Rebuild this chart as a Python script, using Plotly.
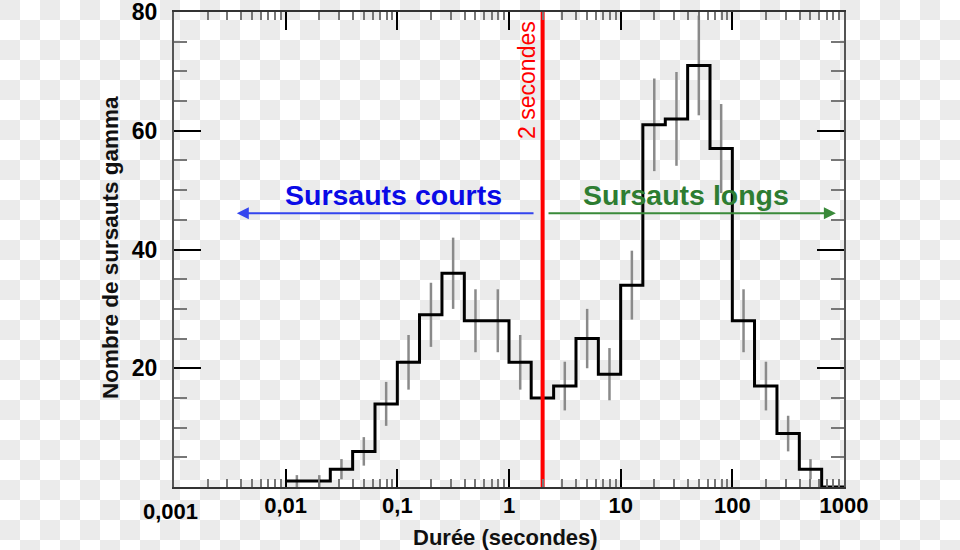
import math
import zlib
import struct
import base64
import plotly.graph_objects as go

# ---------------- data ----------------
bin_left = [0.01, 0.0158, 0.0251, 0.0398, 0.0631, 0.1, 0.158, 0.251, 0.398, 0.631,
            1, 1.58, 2.51, 3.98, 6.31, 10, 15.8, 25.1, 39.8, 63.1,
            100, 158, 251, 398, 631]
bin_right_end = 1000
counts = [1, 1, 3, 6, 14, 21, 29, 36, 28, 28,
          21, 15, 17, 25, 19, 34, 61, 62, 71, 57,
          28, 17, 9, 3, 0]
bin_center = [0.0126, 0.02, 0.0316, 0.0501, 0.0794, 0.126, 0.2, 0.316, 0.501, 0.794,
              1.26, 2, 3.16, 5.01, 7.94, 12.6, 20, 31.6, 50.1, 79.4,
              126, 200, 316, 501, 794]
errors = [1.0, 1.0, 1.7, 2.4, 3.7, 4.6, 5.4, 6.0, 5.3, 5.3,
          4.6, 3.9, 4.1, 5.0, 4.4, 5.8, 7.8, 7.9, 8.4, 7.5,
          5.3, 4.1, 3.0, 1.7, 0.0]

x_tickvals = [0.001, 0.01, 0.1, 1, 10, 100, 1000]
x_ticktext = ["", "0,01", "0,1", "1", "10", "100", "1000"]
y_tickvals = [0, 20, 40, 60, 80]
y_ticktext = ["", "20", "40", "60", "80"]

split_time = 2
short_arrow = (1.71, 0.00365)
long_arrow = (2.19, 846)
arrow_level = 46.1

# ---------------- layout geometry ----------------
W, H = 960, 550
L, R, T, B = 174, 116, 12, 63
PW, PH = W - L - R, H - T - B

FONT = "Arial, Liberation Sans, sans-serif"

def px_to_paper(px, py):
    return (px - L) / PW, (H - B - py) / PH

# checkerboard background (transparent-image look) as an inline PNG
def checker_png(w, h, cell=20, light=255, dark=235):
    rows = bytearray()
    for yy in range(h):
        rows.append(0)
        r = yy // cell
        for xx in range(w):
            rows.append(dark if (r + xx // cell) % 2 == 0 else light)
    def chunk(tag, data):
        c = struct.pack(">I", len(data)) + tag + data
        return c + struct.pack(">I", zlib.crc32(tag + data) & 0xffffffff)
    png = b"\x89PNG\r\n\x1a\n"
    png += chunk(b"IHDR", struct.pack(">IIBBBBB", w, h, 8, 0, 0, 0, 0))
    png += chunk(b"IDAT", zlib.compress(bytes(rows), 9))
    png += chunk(b"IEND", b"")
    return "data:image/png;base64," + base64.b64encode(png).decode()

bg_x, bg_y = px_to_paper(0, 0)

fig = go.Figure()

# error bars
fig.add_trace(go.Scatter(
    x=bin_center, y=counts, mode="markers",
    marker=dict(size=1, opacity=0),
    error_y=dict(type="data", array=errors, visible=True, width=0,
                 thickness=2.5, color="#8a8a8a"),
    hoverinfo="skip", showlegend=False))

# histogram step line
fig.add_trace(go.Scatter(
    x=bin_left + [bin_right_end], y=counts + [counts[-1]],
    mode="lines", line=dict(color="black", width=3, shape="hv"),
    showlegend=False))

# red 2 s line
fig.add_trace(go.Scatter(
    x=[split_time, split_time], y=[0, 80], mode="lines",
    line=dict(color="#ff0000", width=4), showlegend=False, cliponaxis=False))

fig.update_layout(
    width=W, height=H,
    margin=dict(l=L, r=R, t=T, b=B, pad=0, autoexpand=False),
    paper_bgcolor="white", plot_bgcolor="rgba(0,0,0,0)",
    font=dict(family=FONT, color="black"),
    images=[dict(source=checker_png(W, H), xref="paper", yref="paper",
                 x=bg_x, y=bg_y, sizex=W / PW, sizey=H / PH,
                 xanchor="left", yanchor="top", sizing="stretch",
                 layer="below")],
    xaxis=dict(type="log", range=[-3, 3], showgrid=False, zeroline=False,
               automargin=False, ticklabeloverflow="allow",
               showline=True, linecolor="#333", linewidth=2, mirror="allticks",
               tickmode="array", tickvals=x_tickvals, ticktext=x_ticktext,
               ticks="inside", ticklen=18, tickwidth=2, tickcolor="black",
               tickfont=dict(size=22, family=FONT, weight="bold"),
               ticklabelstandoff=-2,
               minor=dict(dtick="D1", ticks="inside", ticklen=8, tickwidth=2,
                          tickcolor="#777", showgrid=False)),
    yaxis=dict(range=[0, 80], showgrid=False, zeroline=False,
               automargin=False, ticklabeloverflow="allow",
               showline=True, linecolor="#555", linewidth=2, mirror="allticks",
               tickmode="array", tickvals=y_tickvals, ticktext=y_ticktext,
               ticks="inside", ticklen=27, tickwidth=2, tickcolor="black",
               tickfont=dict(size=23, family=FONT, weight="bold"),
               ticklabelstandoff=10,
               minor=dict(dtick=5, ticks="inside", ticklen=13, tickwidth=2,
                          tickcolor="#777", showgrid=False)),
)

ann = []
# lowest x tick label placed lower, as in the original
ann.append(dict(text="0,001", xref="paper", yref="paper",
                x=px_to_paper(170, 0)[0], y=px_to_paper(0, 511)[1],
                xanchor="center", yanchor="middle", showarrow=False,
                font=dict(size=22, family=FONT, weight="bold", color="black")))
# axis titles
ann.append(dict(text="Durée (secondes)", xref="paper", yref="paper",
                x=px_to_paper(505, 0)[0], y=px_to_paper(0, 537)[1],
                xanchor="center", yanchor="middle", showarrow=False,
                font=dict(size=22, family=FONT, weight="bold", color="#111")))
ann.append(dict(text="Nombre de sursauts gamma", xref="paper", yref="paper",
                x=px_to_paper(111, 0)[0], y=px_to_paper(0, 248)[1],
                xanchor="center", yanchor="middle", textangle=-90, showarrow=False,
                font=dict(size=22.5, family=FONT, weight="bold", color="#111")))
# 2 secondes label
ann.append(dict(text="2 secondes", xref="x", yref="y",
                x=math.log10(split_time), y=68.5, xshift=-15,
                xanchor="center", yanchor="middle", textangle=-90, showarrow=False,
                font=dict(size=23, family=FONT, color="#ff0000")))
# group labels
ann.append(dict(text="Sursauts courts", xref="paper", yref="paper",
                x=px_to_paper(393, 0)[0], y=px_to_paper(0, 195)[1],
                xanchor="center", yanchor="middle", showarrow=False,
                font=dict(size=28.5, family=FONT, weight="bold", color="#0a0ae6")))
ann.append(dict(text="Sursauts longs", xref="paper", yref="paper",
                x=px_to_paper(686, 0)[0], y=px_to_paper(0, 195)[1],
                xanchor="center", yanchor="middle", showarrow=False,
                font=dict(size=28.5, family=FONT, weight="bold", color="#2e7d32")))
# arrows
ann.append(dict(text="", xref="x", yref="y", axref="x", ayref="y",
                x=math.log10(short_arrow[1]), y=arrow_level,
                ax=math.log10(short_arrow[0]), ay=arrow_level,
                showarrow=True, arrowhead=2, arrowsize=1.2, arrowwidth=2,
                arrowcolor="#3344ee"))
ann.append(dict(text="", xref="x", yref="y", axref="x", ayref="y",
                x=math.log10(long_arrow[1]), y=arrow_level,
                ax=math.log10(long_arrow[0]), ay=arrow_level,
                showarrow=True, arrowhead=2, arrowsize=1.2, arrowwidth=2,
                arrowcolor="#3a8a3a"))
fig.update_layout(annotations=ann)

fig.write_html("out.html")
